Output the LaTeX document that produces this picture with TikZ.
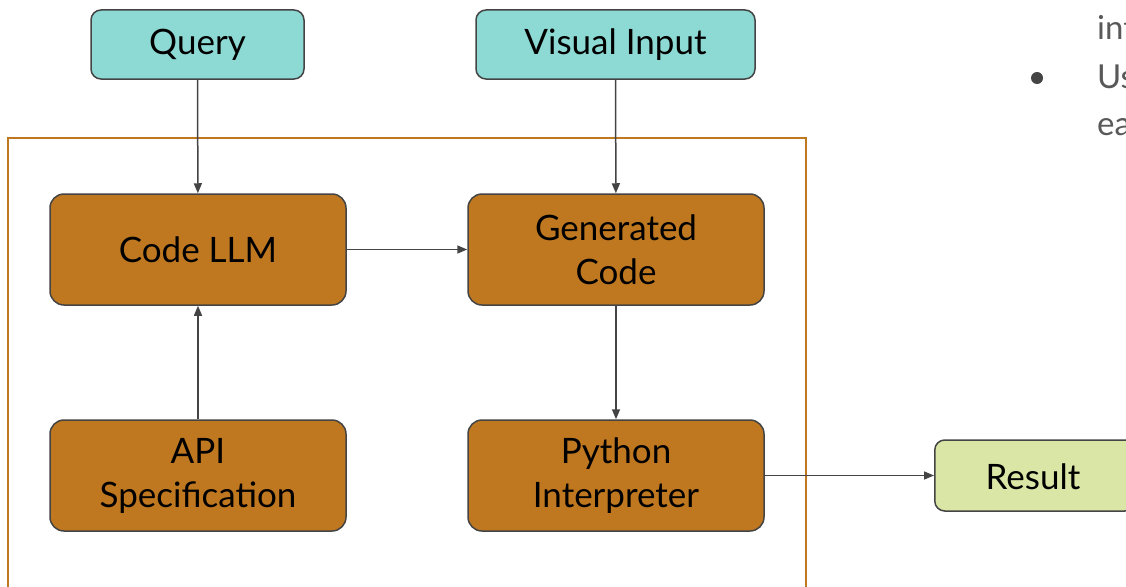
\documentclass[tikz,border=0pt]{standalone}
\usepackage{fontspec}
\setmainfont{Lato}
\usetikzlibrary{arrows.meta}
\definecolor{teal1}{HTML}{8DD9D4}
\definecolor{orng}{HTML}{BF7820}
\definecolor{grn}{HTML}{D9E6A5}
\definecolor{edge}{HTML}{444444}
\definecolor{txtgray}{HTML}{595959}
\tikzset{
  box/.style={draw=edge, line width=1.5pt, rounded corners=14pt, align=center, font=\fontsize{35}{44}\selectfont, inner sep=0pt},
  inbox/.style={box, fill=teal1, minimum width=213pt, minimum height=69pt, rounded corners=10pt},
  corebox/.style={box, fill=orng, minimum width=296pt, minimum height=111pt},
  resbox/.style={box, fill=grn, minimum width=200pt, minimum height=71pt, rounded corners=10pt},
  conn/.style={draw=edge, line width=1.5pt, -{Triangle[length=10pt,width=8pt]}},
  sidetext/.style={text=txtgray, font=\fontsize{33}{40}\selectfont, anchor=base west, inner sep=0pt}
}
\begin{document}
\begin{tikzpicture}[x=1pt,y=-1pt]
\useasboundingbox (0,0) rectangle (1126,586);
% frame
\draw[orng, line width=1.6pt] (8,600) -- (8,138) -- (806,138) -- (806,600);
% nodes
\node[inbox] (query) at (197.5,44.5) {Query};
\node[inbox, minimum width=279pt] (visual) at (615.5,44.5) {Visual Input};
\node[corebox] (llm) at (198,249.5) {Code LLM};
\node[corebox] (gen) at (616,249.5) {Generated\\Code};
\node[corebox] (api) at (198,475.5) {API\\Specification};
\node[corebox] (py) at (616,475.5) {Python\\Interpreter};
\node[resbox, anchor=west] (res) at (934,475.5) {};
\node[font=\fontsize{35}{44}\selectfont, inner sep=0pt] (restext) at (1033,477) {Result};
% connectors
\draw[conn] (query) -- (llm);
\draw[conn] (visual) -- (gen);
\draw[conn] (llm) -- (gen);
\draw[conn] (api) -- (llm);
\draw[conn] (gen) -- (py);
\draw[conn] (py) -- (res);
% side text
\node[sidetext] (t1) at (1097,40) {int};
\node[sidetext] (t2) at (1097,88) {Us};
\node[sidetext] (t3) at (1097,135) {ea};
\fill[edge] (1037,78) circle (6pt);
\end{tikzpicture}
\end{document}
